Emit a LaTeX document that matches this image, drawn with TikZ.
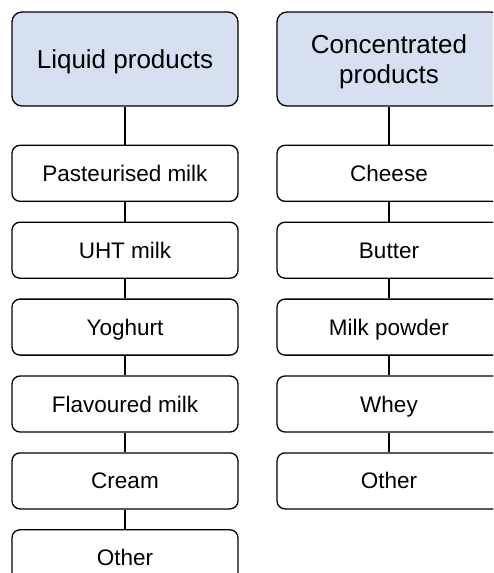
\documentclass[tikz,border=0pt]{standalone}
\usepackage{fontspec}
\setmainfont{Liberation Sans}
\usetikzlibrary{positioning}
\definecolor{headblue}{RGB}{214,224,241}

\begin{document}
\begin{tikzpicture}[x=1pt, y=1pt, line width=1.3pt,
			      node distance=19.6pt,
			      every node/.style={rectangle, draw, rounded corners=8pt, minimum width=226pt, minimum height=56pt, inner sep=2pt, text height=16pt, text depth=0pt, font=\fontsize{22.5}{26}\selectfont},
			      head/.style={fill=headblue, minimum height=94pt, rounded corners=10pt, align=center, text height=, text depth=0pt, font=\fontsize{26}{30}\selectfont}]
		      \useasboundingbox (0,0) rectangle (493,-573);
		      \clip (0,0) rectangle (493,-573);
		      % liquid column
		      \node[head, text height=18.6pt] (liq) at (125,-59) {Liquid products};
		      \node[below=38pt of liq] (liq1) {Pasteurised milk};
		      \node[below=of liq1] (liq2) {UHT milk};
		      \node[below=of liq2] (liq3) {Yoghurt};
		      \node[below=of liq3] (liq4) {Flavoured milk};
		      \node[below=of liq4] (liq5) {Cream};
		      \node[below=of liq5] (liq6) {Other};
		      % concentrated column
		      \node[head, minimum width=224pt] (con) at (389,-59) {Concentrated\\products};
		      \node[below=38pt of con, minimum width=224pt] (con1) {Cheese};
		      \node[below=of con1, minimum width=224pt] (con2) {Butter};
		      \node[below=of con2, minimum width=224pt] (con3) {Milk powder};
		      \node[below=of con3, minimum width=224pt] (con4) {Whey};
		      \node[below=of con4, minimum width=224pt] (con5) {Other};
		      \foreach \a/\b in {liq/liq1, liq1/liq2, liq2/liq3, liq3/liq4, liq4/liq5, liq5/liq6,
		                         con/con1, con1/con2, con2/con3, con3/con4, con4/con5}
		        \draw (\a) -- (\b);
	      \end{tikzpicture}
\end{document}
